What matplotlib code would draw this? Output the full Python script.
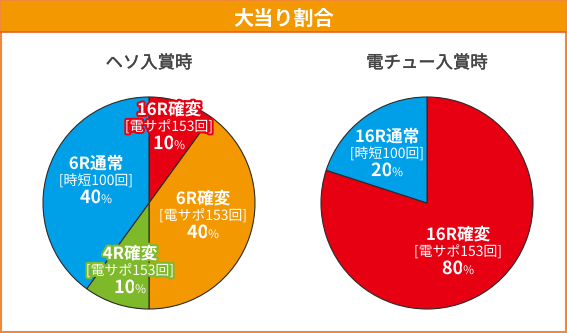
import matplotlib
matplotlib.use("Agg")
import matplotlib.pyplot as plt
import matplotlib.patheffects as pe
from matplotlib.patches import Rectangle
from matplotlib.offsetbox import TextArea, VPacker, HPacker, AnnotationBbox

plt.rcParams['font.family'] = ['Noto Sans CJK JP', 'DejaVu Sans']

W, H = 567, 333

title = "大当り割合"

# left pie: ヘソ入賞時
heso_title = "ヘソ入賞時"
heso_names = ["16R確変", "6R確変", "4R確変", "6R通常"]
heso_notes = ["[電サポ153回]", "[電サポ153回]", "[電サポ153回]", "[時短100回]"]
heso_pct = [10, 40, 10, 40]
heso_colors = ["#E60012", "#F39800", "#7DB928", "#00A0E9"]

# right pie: 電チュー入賞時
den_title = "電チュー入賞時"
den_names = ["16R確変", "16R通常"]
den_notes = ["[電サポ153回]", "[時短100回]"]
den_pct = [80, 20]
den_colors = ["#E60012", "#00A0E9"]

# label centres (px, middle line) and pie placement
heso_label_xy = [(169, 127), (203, 216), (130, 271), (96, 181)]
den_label_xy = [(458, 252), (387, 154)]
R = 106
heso_center = (149, 203)
den_center = (427, 203)

fig = plt.figure(figsize=(W / 100, H / 100), dpi=100, facecolor='white')

# frame + header bar (underneath the pies)
bg = fig.add_axes([0, 0, 1, 1], zorder=0)
bg.set_xlim(0, W)
bg.set_ylim(H, 0)
bg.axis('off')
bg.add_patch(Rectangle((1, 1), W - 2.5, H - 2.5, facecolor='white', edgecolor='#F0883A', lw=1.5))
bg.add_patch(Rectangle((1, 1), W - 2.5, 31, facecolor='#F39800', edgecolor='none'))
bg.plot([1, W - 1.5], [32, 32], color='#E8601C', lw=1.2)
bg.text(W / 2, 18, title, color='white', fontsize=14.5, fontweight='bold', ha='center', va='center')

# overlay for the slice labels
top = fig.add_axes([0, 0, 1, 1], zorder=10)
top.set_xlim(0, W)
top.set_ylim(H, 0)
top.axis('off')


def draw_pie(center, pcts, colors, sub):
    pad = 2
    ax = fig.add_axes([(center[0] - R - pad) / W, 1 - (center[1] + R + pad) / H,
                       2 * (R + pad) / W, 2 * (R + pad) / H], zorder=5)
    ax.pie(pcts, colors=colors, startangle=90, counterclock=False, radius=1,
           wedgeprops=dict(edgecolor='#2a2a2a', linewidth=0.8))
    lim = (R + pad) / R
    ax.set_xlim(-lim, lim)
    ax.set_ylim(-lim, lim)
    ax.set_aspect('auto')
    ax.axis('off')
    # thin stroke gives the subtitle a medium weight
    bg.text(center[0], 63, sub, color='#444444', fontsize=12.5, ha='center', va='center',
            path_effects=[pe.withStroke(linewidth=0.3, foreground='#444444')])


def draw_label(xy, name, note, pct, color):
    stroke = [pe.withStroke(linewidth=3, foreground=color)]
    t_name = TextArea(name, textprops=dict(color='white', fontsize=12, fontweight='bold', path_effects=stroke))
    t_note = TextArea(note, textprops=dict(color='white', fontsize=10, path_effects=stroke))
    t_num = TextArea(str(pct), textprops=dict(color='white', fontsize=13, fontweight='bold', path_effects=stroke))
    t_sign = TextArea("%", textprops=dict(color='white', fontsize=8.5, path_effects=stroke))
    row = HPacker(children=[t_num, t_sign], align='baseline', pad=0, sep=0)
    box = VPacker(children=[t_name, t_note, row], align='center', pad=0, sep=0)
    ab = AnnotationBbox(box, xy, xycoords='data', frameon=False, box_alignment=(0.5, 0.5))
    top.add_artist(ab)


draw_pie(heso_center, heso_pct, heso_colors, heso_title)
draw_pie(den_center, den_pct, den_colors, den_title)

for xy, n, s, p, c in zip(heso_label_xy, heso_names, heso_notes, heso_pct, heso_colors):
    draw_label(xy, n, s, p, c)
for xy, n, s, p, c in zip(den_label_xy, den_names, den_notes, den_pct, den_colors):
    draw_label(xy, n, s, p, c)

fig.savefig("out.png", dpi=100)
